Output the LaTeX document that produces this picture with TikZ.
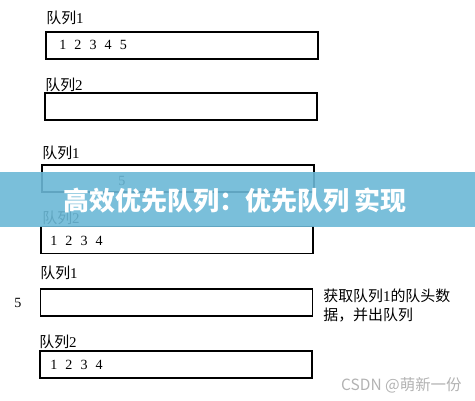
\documentclass[tikz,border=0pt]{standalone}
\usepackage{fontspec}
\setmainfont{Liberation Serif}
\newfontfamily\cjk{Noto Sans CJK SC}
\usetikzlibrary{positioning}
\definecolor{bannerblue}{RGB}{107,184,214}
\tikzset{
  qbox/.style={draw, line width=1.1pt, minimum width=5.44cm, minimum height=0.54cm, inner sep=0pt},
  qname/.style={font=\fontsize{8.5}{10}\selectfont, anchor=west, inner sep=0pt},
  nums/.style={font=\fontsize{8}{10}\selectfont, anchor=west, inner sep=0pt},
}
\newcommand{\gap}{\hspace{4.6pt}}
\begin{document}
\begin{tikzpicture}[x=0.02cm, y=-0.02cm]
        \useasboundingbox (0,0) rectangle (475,400);
        % step 1
        \node[qname] (s1q1lbl) at (46,18) {{\cjk 队列}1};
        \node[qbox] (s1q1) at (182,45.5) {};
        \node[nums] (s1q1data) at (59,45) {1\gap 2\gap 3\gap 4\gap 5};
        \node[qname] (s1q2lbl) at (45,85) {{\cjk 队列}2};
        \node[qbox] (s1q2) at (181,106.5) {};
        % step 2
        \node[qname] (s2q1lbl) at (42,153) {{\cjk 队列}1};
        \node[qbox] (s2q1) at (178,178.5) {};
        \node[nums] (s2q1data) at (118,181) {5};
        \node[qname] (s2q2lbl) at (42,218) {{\cjk 队列}2};
        \node[qbox] (s2q2) at (177,240) {};
        \node[nums] (s2q2data) at (50,241) {1\gap 2\gap 3\gap 4};
        % step 3
        \node[qname] (s3q1lbl) at (40,273) {{\cjk 队列}1};
        \node[qbox] (s3q1) at (176.5,302.5) {};
        \node[nums] (s3out) at (14,303) {5};
        \node[qname, align=left, font=\fontsize{8.5}{10.8}\selectfont] (s3note) at (323,305.5)
            {{\cjk 获取队列}1{\cjk 的队头数}\\{\cjk 据，并出队列}};
        \node[qname] (s3q2lbl) at (39,342) {{\cjk 队列}2};
        \node[qbox] (s3q2) at (176,364.5) {};
        \node[nums] (s3q2data) at (50,365) {1\gap 2\gap 3\gap 4};
        % banner and mark
        \fill[bannerblue, opacity=0.9] (0,172) rectangle (475,227);
        \node[font=\cjk\bfseries\fontsize{14.8}{16}\selectfont, text=white, inner sep=0pt] (banner) at (235,201)
            {高效优先队列：优先队列 实现};
        \node[font=\cjk\fontsize{8.8}{10}\selectfont, text=gray!60, anchor=east, inner sep=0pt] (mark) at (462,385)
            {CSDN @萌新一份};
\end{tikzpicture}
\end{document}
